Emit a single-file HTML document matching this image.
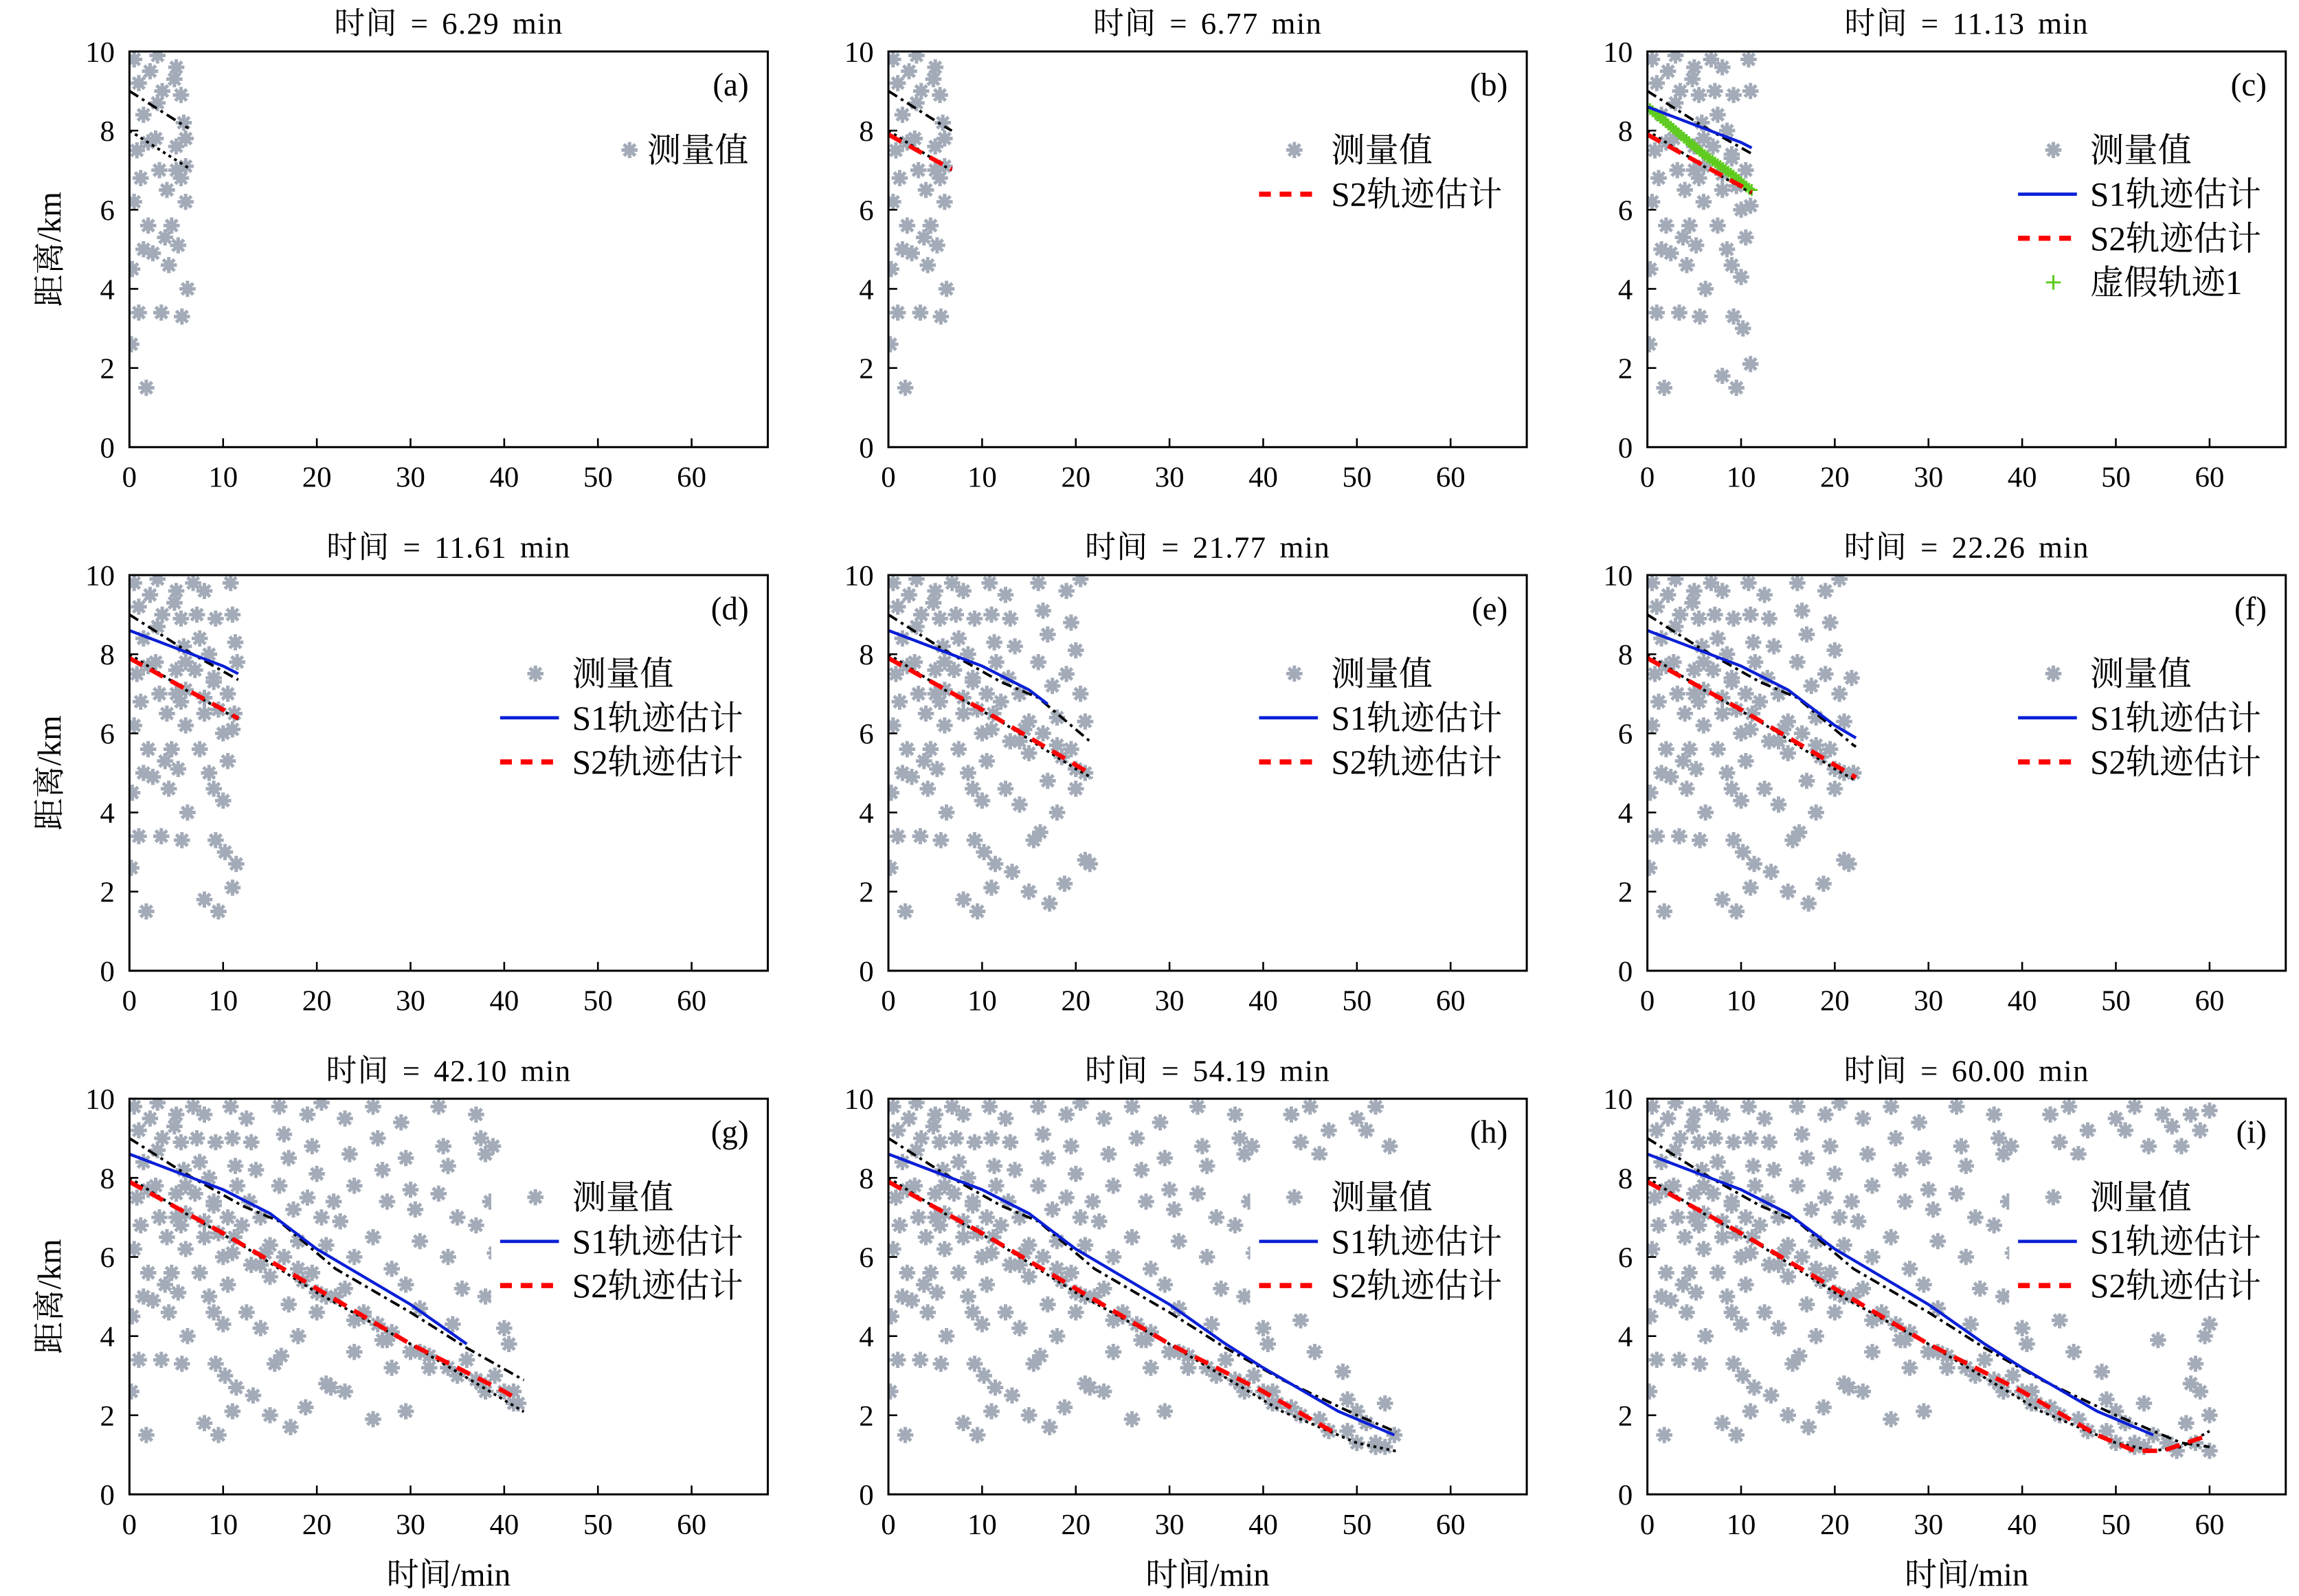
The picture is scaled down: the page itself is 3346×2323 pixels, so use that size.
<!DOCTYPE html>
<html><head><meta charset="utf-8">
<style>
html,body{margin:0;padding:0;background:#fff;}
svg{display:block;}
text{font-family:"Liberation Serif","Noto Serif CJK SC",serif;fill:#000;}
</style></head>
<body>
<svg id="fig" xmlns="http://www.w3.org/2000/svg" width="3346" height="2323" viewBox="0 0 1563 1085.1" preserveAspectRatio="none"></svg>
<script>
// measurement times (min)
const measT = [0.5,1,1.5,0.8,1.2,0.5,2,1.5,0.3,2.5,1,1.8,3,3.5,2.8,3.2,4,4.5,3.8,4.2,3.4,5,5.5,5.8,5,6,5.5,6,5.2,5.6,6.2,2.2,4.8,0.2,
6.8,7.2,8,7.5,8.5,7,9,8,9.5,10,7.5,8.5,10.5,9,10,8,9.2,9.5,10.8,11,11.3,10.5,11.2,11,11.4,10.2,11.5,9.2,
12.5,13,13.5,12.8,14,14.5,13,15,12.5,14,15.5,13.2,16,16.5,17,16,17.5,18,16.5,18.5,17,18,16.2,17.2,15,19,19.5,20,19,20.5,21,19.5,21,20,21.5,21,18.8,21.8,20.5,
23,23.5,24,22.5,24,23,25,24,23,26,26.5,27,27.5,26,28,26.5,27.5,28,26,29,29.5,30,30.5,31,29.5,31,30,32,29.5,33,33.5,34,33,35,34,35.5,34.5,36,37,37.5,38,38.5,37,39,38,40,39,41,40.5,41.5,37.5,38.8,40.8,
43,44,45,46,47,48,44.5,46,47,44,45.5,48.5,49,50,51,52,53,54,49.5,50,51,52,53.5,55,56,57,58,59,60,55,57,59.5,60,58,59,57.5,55.5,56.5,58.5,60,60,54.5,56,58.5,
3,6,9,12,15,18,22,25,28,32,35,38,41,44,47,50,53,2,5,8,11,14,20,24,27,31,34,37,40,43,46,49,52];
// measurement ranges (km)
const measD = [9.8,9.2,8.4,7.5,6.8,6.2,5.6,5.0,4.5,4.9,3.4,1.5,9.9,9.0,7.8,7.0,6.5,5.6,5.3,4.6,3.4,9.6,8.9,8.2,7.6,7.1,6.8,6.2,5.1,3.3,4.0,9.5,9.3,2.6,
9.8,9.0,9.6,8.4,8.0,7.6,7.4,6.9,6.6,6.0,5.6,5.0,5.3,4.6,4.3,1.8,3.3,1.5,9.8,9.0,8.3,7.0,6.5,2.1,2.7,3.0,7.8,8.9,
9.5,8.9,8.2,7.4,7.0,6.1,5.8,5.5,4.6,4.2,3.3,2.5,9.8,9.1,8.5,7.8,7.2,6.4,6.0,5.4,4.8,4.0,3.5,1.7,2.0,9.6,8.8,8.1,7.5,7.0,6.3,5.6,5.0,4.6,2.7,2.8,2.2,7.4,9.9,
9.5,8.6,7.8,6.9,6.0,5.2,4.6,3.6,2.6,9.8,9.0,8.2,7.4,6.5,5.7,4.3,3.9,3.2,1.9,9.4,8.5,7.7,7.2,6.4,5.3,4.7,3.6,3.2,2.1,9.8,8.8,8.3,7.6,7.0,6.0,5.2,4.3,3.4,9.6,9.0,8.6,7.4,6.8,6.1,5.0,4.2,3.0,2.6,3.8,2.3,2.8,8.8,8.2,
9.6,8.9,9.8,8.6,9.2,8.2,6.8,5.9,5.3,4.4,3.6,3.1,2.4,2.1,1.8,1.3,2.3,1.5,5.5,9.5,9.2,9.8,8.8,9.6,9.3,8.8,9.6,9.2,9.7,5.2,4.9,4.0,4.3,2.8,2.6,1.8,1.3,1.1,1.3,1.1,2.0,3.9,6.1,3.3,
8.7,7.8,7.3,6.8,6.3,5.7,5.0,4.5,4.1,3.5,3.0,2.6,2.3,2.0,1.6,1.3,1.2,7.7,7.0,6.5,6.1,5.8,5.1,4.4,3.9,3.6,3.2,2.9,2.6,2.2,1.9,1.6,1.2];
// true track 1
const true1T = [0,6,12,16,22,30,36,42,50,54,57,60];
const true1D = [9.0,8.1,7.3,6.9,5.7,4.6,3.7,2.9,2.0,1.6,1.3,1.2];
// true track 2
const true2T = [0,6,12,20,30,42,50,54,57,60];
const true2D = [8.0,7.1,6.3,5.1,3.8,2.1,1.3,1.1,1.2,1.6];
// S1 estimate
const s1T = [0,10,15,20,25,30,36,40,48,54];
const s1D = [8.6,7.7,7.1,6.2,5.5,4.8,3.8,3.2,2.1,1.5];
// S2 estimate
const s2T = [0,10,20,30,40,48,52,55,60];
const s2D = [7.9,6.6,5.2,3.8,2.6,1.5,1.1,1.1,1.5];
// fake track 1 (panel c)
const fakeT = [0,3,6,9,11];
const fakeD = [8.6,8.0,7.4,6.9,6.5];
// panels
const panelTimes = [6.29,6.77,11.13,11.61,21.77,22.26,42.10,54.19,60.00];
const panelLetters = ['a','b','c','d','e','f','g','h','i'];
const s1End = [null,null,11.13,11.61,17,22.26,36,54.19,54];
const s2End = [null,6.77,11.13,11.61,21.77,22.26,41,48,60];
const xTicks = [0,10,20,30,40,50,60];
const yTicks = [0,2,4,6,8,10];

const NS='http://www.w3.org/2000/svg';
const svg=document.getElementById('fig');
function mk(tag,attrs,parent){const e=document.createElementNS(NS,tag);for(const k in attrs)e.setAttribute(k,attrs[k]);(parent||svg).appendChild(e);return e;}
const colX=[88,604,1120], rowY=[35,391,747], PW=434, PH=269, PXU=6.37;
function clipSeries(T,D,end){const pts=[];for(let i=0;i<T.length;i++){if(T[i]<=end)pts.push([T[i],D[i]]);else{const t0=T[i-1],d0=D[i-1];const f=(end-t0)/(T[i]-t0);pts.push([end,d0+f*(D[i]-d0)]);break;}}return pts;}
function star(g,cx,cy,r){const d=[];for(let a=0;a<4;a++){const an=a*Math.PI/4;const dx=r*Math.cos(an),dy=r*Math.sin(an);d.push(`M${cx-dx},${cy-dy}L${cx+dx},${cy+dy}`);}const p=mk('path',{d:d.join(''),stroke:'#a3abb8','stroke-width':2.4,fill:'none'},g);return p;}

for(let p=0;p<9;p++){
  const c=p%3,r=Math.floor(p/3),x0=colX[c],y0=rowY[r];
  const X=t=>x0+t*PXU, Y=d=>y0+PH-d*PH/10;
  const g=mk('g',{});
  
  
  const T=panelTimes[p];
  const cp=mk('clipPath',{id:'cp'+p},g);mk('rect',{x:x0,y:y0,width:PW,height:PH},cp);
  const plot=mk('g',{'clip-path':`url(#cp${p})`},g);
  const sg=mk('g',{},plot);
  
  
  for(let i=0;i<measT.length;i++){if(measT[i]<=T){star(sg,X(measT[i]),Y(measD[i]),5.5);}}
  const line=(pts,attrs,name)=>{const l=mk('polyline',Object.assign({points:pts.map(q=>X(q[0])+','+Y(q[1])).join(' '),fill:'none'},attrs),plot);};
  if(p===2){const fg=mk('g',{},plot);
    for(let k=0;k<=40;k++){const t=k*T/40;let d=fakeD[0];for(let j=1;j<fakeT.length;j++){if(t<=fakeT[j]){const f=(t-fakeT[j-1])/(fakeT[j]-fakeT[j-1]);d=fakeD[j-1]+f*(fakeD[j]-fakeD[j-1]);break;}d=fakeD[j];}
      mk('path',{d:`M${X(t)-4},${Y(d)}h8M${X(t)},${Y(d)-4}v8`,stroke:'#5ecb1e','stroke-width':1.4},fg);}}
  line(clipSeries(true1T,true1D,T),{stroke:'#000','stroke-width':1.8,'stroke-dasharray':'7 3 2 3'},'true-track-1');
  line(clipSeries(true2T,true2D,T),{stroke:'#000','stroke-width':1.8,'stroke-dasharray':'2 2.5'},'true-track-2');
  if(s1End[p]!==null)line(clipSeries(s1T,s1D,s1End[p]),{stroke:'#0a1fd6','stroke-width':2},'s1-estimate');
  if(s2End[p]!==null)line(clipSeries(s2T,s2D,s2End[p]),{stroke:'#f00','stroke-width':3,'stroke-dasharray':'10 6'},'s2-estimate');
  const box=mk('rect',{x:x0,y:y0,width:PW,height:PH,fill:'none',stroke:'#000','stroke-width':1.4},g);
  
  xTicks.forEach(v=>{mk('line',{x1:X(v),x2:X(v),y1:y0+PH,y2:y0+PH-6,stroke:'#000','stroke-width':1.2},g);
    const t=mk('text',{x:X(v),y:y0+PH+27,'text-anchor':'middle','font-size':20},g);t.textContent=v;
    });
  yTicks.forEach(v=>{mk('line',{x1:x0,x2:x0+6,y1:Y(v),y2:Y(v),stroke:'#000','stroke-width':1.2},g);
    const t=mk('text',{x:x0-10,y:Y(v)+7,'text-anchor':'end','font-size':20},g);t.textContent=v;
    });
  const ti=mk('text',{x:x0+PW/2,y:y0-12,'text-anchor':'middle','font-size':21,'word-spacing':'3','letter-spacing':'0.6'},g);ti.textContent='时间 = '+panelTimes[p].toFixed(2)+' min';
  
  const lt=mk('text',{x:x0+PW-13,y:y0+30,'text-anchor':'end','font-size':22},g);lt.textContent='('+panelLetters[p]+')';
  
  const entries=[['meas','测量值']];
  if(p===1)entries.push(['s2','S2轨迹估计']);
  if(p>=2){entries.push(['s1','S1轨迹估计']);entries.push(['s2','S2轨迹估计']);}
  if(p===2)entries.push(['fake','虚假轨迹1']);
  const lx=(p===0)?x0+352:x0+301, ly0=y0+67;
  const lg=mk('g',{},g);
  mk('rect',{x:lx-55,y:ly0-25,width:x0+PW-(lx-55)-2,height:entries.length*30+14,fill:'#fff'},lg);
  entries.forEach((e,k)=>{const yy=ly0+k*30;
    if(e[0]==='meas')star(lg,(p===0?lx-12:lx-25),yy,5.5);
    if(e[0]==='s1')mk('line',{x1:lx-49,x2:lx-9,y1:yy,y2:yy,stroke:'#0a1fd6','stroke-width':2.2},lg);
    if(e[0]==='s2')mk('line',{x1:lx-49,x2:lx-9,y1:yy,y2:yy,stroke:'#f00','stroke-width':3.5,'stroke-dasharray':'8 6'},lg);
    if(e[0]==='fake')mk('path',{d:`M${lx-30},${yy}h10M${lx-25},${yy-5}v10`,stroke:'#5ecb1e','stroke-width':1.4},lg);
    const t=mk('text',{x:lx,y:yy+8,'font-size':23},lg);t.textContent=e[1];
    });
  if(c===0){const yl=mk('text',{x:0,y:0,'text-anchor':'middle','font-size':22,transform:`translate(41,${y0+PH/2}) rotate(-90)`},g);yl.textContent='距离/km';
    }
  if(r===2){const xl=mk('text',{x:x0+PW/2,y:1078,'text-anchor':'middle','font-size':22},g);xl.textContent='时间/min';
    }
}
</script>
</body></html>
